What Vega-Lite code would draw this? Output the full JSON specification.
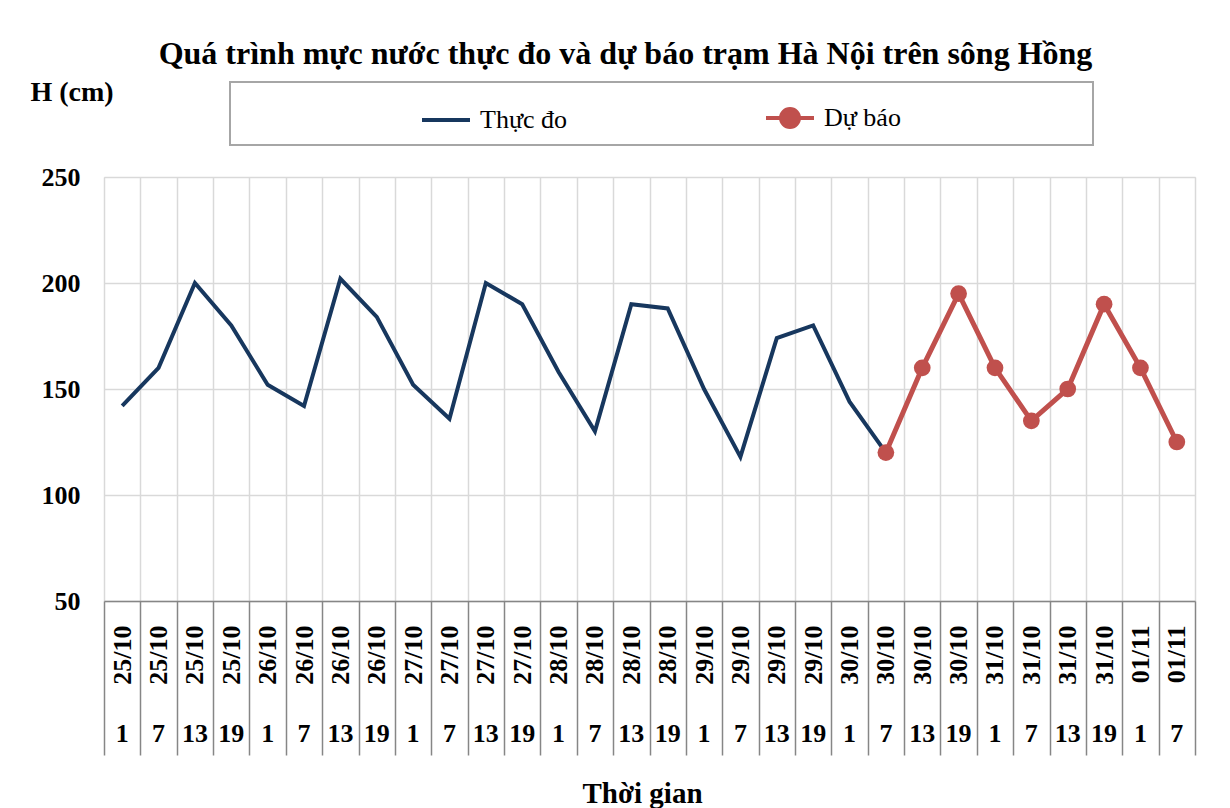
{
  "$schema": "https://vega.github.io/schema/vega-lite/v6.json",
  "width": 1091,
  "height": 424,
  "autosize": {"type": "none"},
  "padding": {"left": 104, "top": 177, "right": 35, "bottom": 207},
  "background": "white",
  "title": {
    "text": "Quá trình mực nước thực đo và dự báo trạm Hà Nội trên sông Hồng",
    "font": "Liberation Serif",
    "fontSize": 32,
    "fontWeight": "bold",
    "color": "black",
    "anchor": "middle",
    "dx": -24,
    "offset": 7
  },
  "config": {
    "view": {"stroke": "#d9d9d9", "strokeWidth": 1},
    "axis": {"labelFont": "Liberation Serif", "titleFont": "Liberation Serif", "labelColor": "black", "titleColor": "black"}
  },
  "data": {
    "values": [
      {"t": "25/10|1", "obs": 142, "fc": null},
      {"t": "25/10|7", "obs": 160, "fc": null},
      {"t": "25/10|13", "obs": 200, "fc": null},
      {"t": "25/10|19", "obs": 180, "fc": null},
      {"t": "26/10|1", "obs": 152, "fc": null},
      {"t": "26/10|7", "obs": 142, "fc": null},
      {"t": "26/10|13", "obs": 202, "fc": null},
      {"t": "26/10|19", "obs": 184, "fc": null},
      {"t": "27/10|1", "obs": 152, "fc": null},
      {"t": "27/10|7", "obs": 136, "fc": null},
      {"t": "27/10|13", "obs": 200, "fc": null},
      {"t": "27/10|19", "obs": 190, "fc": null},
      {"t": "28/10|1", "obs": 158, "fc": null},
      {"t": "28/10|7", "obs": 130, "fc": null},
      {"t": "28/10|13", "obs": 190, "fc": null},
      {"t": "28/10|19", "obs": 188, "fc": null},
      {"t": "29/10|1", "obs": 150, "fc": null},
      {"t": "29/10|7", "obs": 118, "fc": null},
      {"t": "29/10|13", "obs": 174, "fc": null},
      {"t": "29/10|19", "obs": 180, "fc": null},
      {"t": "30/10|1", "obs": 144, "fc": null},
      {"t": "30/10|7", "obs": 120, "fc": 120},
      {"t": "30/10|13", "obs": null, "fc": 160},
      {"t": "30/10|19", "obs": null, "fc": 195},
      {"t": "31/10|1", "obs": null, "fc": 160},
      {"t": "31/10|7", "obs": null, "fc": 135},
      {"t": "31/10|13", "obs": null, "fc": 150},
      {"t": "31/10|19", "obs": null, "fc": 190},
      {"t": "01/11|1", "obs": null, "fc": 160},
      {"t": "01/11|7", "obs": null, "fc": 125}
    ]
  },
  "resolve": {"axis": {"x": "independent"}},
  "layer": [
    {
      "mark": {"type": "line", "strokeWidth": 4},
      "encoding": {
        "x": {
          "field": "t", "type": "ordinal", "sort": null, "bandPosition": 0.5,
          "scale": {"type": "band", "paddingInner": 0, "paddingOuter": 0},
          "axis": {
            "orient": "bottom",
            "title": null,
            "labelExpr": "isValid(datum.value) ? split(datum.value, '|')[0] : ''",
            "labelAngle": 270,
            "labelAlign": "right",
            "labelBaseline": "middle",
            "labelPadding": 24,
            "labelFontSize": 26,
            "labelFontWeight": "bold",
            "labelOverlap": false,
            "labelBound": false,
            "labelFlush": false,
            "ticks": false,
            "domain": false,
            "grid": true,
            "tickBand": "extent",
            "gridColor": "#d9d9d9",
            "gridWidth": 1.5
          }
        },
        "y": {
          "field": "obs", "type": "quantitative",
          "scale": {"domain": [50, 250], "nice": false, "zero": false},
          "axis": {
            "title": "H (cm)",
            "titleAngle": 0,
            "titleAlign": "left",
            "titleBaseline": "middle",
            "titleX": -74,
            "titleY": -85,
            "titleFontSize": 28,
            "titleFontWeight": "bold",
            "values": [50, 100, 150, 200, 250],
            "labelFontSize": 26,
            "labelFontWeight": "bold",
            "labelPadding": 24,
            "ticks": false,
            "domain": false,
            "grid": true,
            "gridColor": "#d9d9d9",
            "gridWidth": 1.5
          }
        },
        "color": {
          "datum": "Thực đo", "type": "nominal",
          "scale": {"domain": ["Thực đo", "Dự báo"], "range": ["#17375E", "#C0504D"]},
          "legend": {
            "orient": "none",
            "legendX": 126,
            "legendY": -95,
            "direction": "horizontal",
            "columns": 2,
            "columnPadding": 190,
            "padding": 10,
            "strokeColor": "#a6a6a6",
            "title": "\u00a0",
            "titleOrient": "left",
            "titlePadding": 180,
            "titleFontSize": 24,
            "labelFont": "Liberation Serif",
            "labelFontSize": 26,
            "labelColor": "black",
            "labelOffset": 8,
            "labelLimit": 0,
            "labelExpr": "indexof(datum.label, 'b') >= 0 ? pad(datum.label, 34, '\u00a0') + '\u200b' : datum.label",
            "symbolSize": 2304,
            "symbolStrokeWidth": 4,
            "encode": {
              "legend": {"update": {"strokeWidth": {"value": 2}}},
              "symbols": {
                "update": {
                  "shape": {"signal": "indexof(datum.value, 'b') >= 0 ? 'M-1,0L1,0M-0.375,0A0.375,0.375,0,1,0,0.375,0A0.375,0.375,0,1,0,-0.375,0Z' : 'stroke'"},
                  "fill": {"signal": "indexof(datum.value, 'b') >= 0 ? '#C0504D' : 'transparent'"},
                  "stroke": {"signal": "indexof(datum.value, 'b') >= 0 ? '#C0504D' : '#17375E'"},
                  "strokeWidth": {"value": 4},
                  "opacity": {"value": 1},
                  "fillOpacity": {"value": 1}
                }
              }
            }
          }
        }
      }
    },
    {
      "mark": {"type": "line", "strokeWidth": 5},
      "encoding": {
        "x": {
          "field": "t", "type": "ordinal", "sort": null, "bandPosition": 0.5,
          "scale": {"type": "band", "paddingInner": 0, "paddingOuter": 0},
          "axis": {
            "orient": "bottom",
            "title": "Thời gian",
            "titleFontSize": 29,
            "titleFontWeight": "bold",
            "titleBaseline": "middle",
            "titleX": 538,
            "titleY": 192,
            "labelExpr": "split(datum.value, '|')[1]",
            "labelAngle": 0,
            "labelAlign": "center",
            "labelBaseline": "middle",
            "labelPadding": 132,
            "labelFontSize": 26,
            "labelFontWeight": "bold",
            "labelOverlap": false,
            "labelBound": false,
            "labelFlush": false,
            "ticks": false,
            "domain": false,
            "grid": false
          }
        },
        "y": {
          "field": "fc", "type": "quantitative",
          "scale": {"domain": [50, 250], "nice": false, "zero": false}
        },
        "color": {"datum": "Dự báo", "type": "nominal"}
      }
    },
    {
      "mark": {"type": "point", "filled": true, "size": 280, "opacity": 1},
      "encoding": {
        "x": {
          "field": "t", "type": "ordinal", "sort": null, "bandPosition": 0.5,
          "scale": {"type": "band", "paddingInner": 0, "paddingOuter": 0},
          "axis": {
            "orient": "bottom",
            "title": null,
            "labels": false,
            "ticks": true,
            "tickBand": "extent",
            "tickSize": 154,
            "tickColor": "#868686",
            "tickWidth": 1.5,
            "domain": true,
            "domainColor": "#868686",
            "domainWidth": 1.5,
            "grid": false
          }
        },
        "y": {
          "field": "fc", "type": "quantitative",
          "scale": {"domain": [50, 250], "nice": false, "zero": false}
        },
        "color": {"datum": "Dự báo", "type": "nominal"}
      }
    }
  ]
}
